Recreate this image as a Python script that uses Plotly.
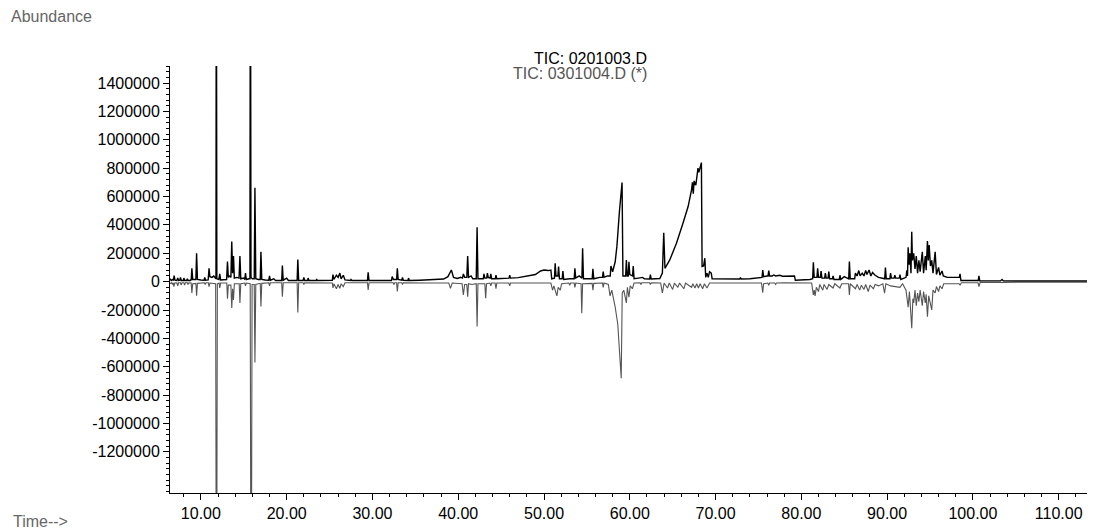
import plotly.graph_objects as go

# ---- data: TIC 0201003.D (upper, black) as (time, abundance)
tic_upper = [
    (6.4, 20000), (6.55, 8000), (6.7, 15000), (6.8, 8000), (6.88, 42000), (6.98, 10000),
    (7.2, 8000), (7.3, 25000), (7.4, 8000), (7.55, 10000), (7.62, 30000), (7.72, 8000),
    (7.95, 8000), (8.02, 25000), (8.12, 8000), (8.35, 8000), (8.42, 20000), (8.52, 8000),
    (8.75, 8000), (8.82, 15000), (8.87, 8000), (8.95, 94000), (9.05, 15000), (9.3, 12000),
    (9.42, 15000), (9.5, 200000), (9.6, 15000), (10.0, 12000), (10.38, 10000), (10.45, 30000),
    (10.55, 10000), (10.85, 12000), (10.95, 94000), (11.05, 35000), (11.3, 30000), (11.5, 40000),
    (11.7, 20000), (11.76, 20000), (11.8, 3000000), (11.86, 20000), (12.1, 15000), (12.2, 55000),
    (12.3, 12000), (12.7, 15000), (13.0, 15000), (13.1, 141000), (13.2, 30000), (13.35, 40000),
    (13.5, 30000), (13.6, 282000), (13.7, 60000), (13.8, 180000), (13.9, 25000), (14.2, 30000),
    (14.45, 25000), (14.55, 180000), (14.65, 20000), (15.0, 25000), (15.12, 15000), (15.2, 60000),
    (15.3, 15000), (15.6, 20000), (15.72, 20000), (15.77, 3000000), (15.84, 30000), (16.0, 20000),
    (16.22, 20000), (16.3, 662000), (16.4, 20000), (16.7, 15000), (16.92, 15000), (17.0, 211000),
    (17.1, 15000), (17.5, 12000), (17.92, 10000), (18.0, 40000), (18.1, 10000), (18.5, 20000),
    (18.7, 8000), (19.42, 8000), (19.5, 113000), (19.6, 10000), (20.0, 25000), (20.2, 8000),
    (21.22, 8000), (21.3, 155000), (21.4, 8000), (21.92, 8000), (22.0, 30000), (22.1, 8000),
    (22.45, 8000), (22.5, 25000), (22.6, 8000), (23.45, 8000), (23.5, 15000), (23.6, 8000),
    (24.25, 8000), (24.3, 12000), (24.4, 8000), (25.32, 10000), (25.4, 50000), (25.5, 15000),
    (25.8, 45000), (26.0, 30000), (26.2, 60000), (26.35, 20000), (26.6, 45000), (26.8, 12000),
    (27.45, 8000), (27.5, 15000), (27.6, 8000), (28.45, 8000), (28.5, 12000), (28.6, 8000),
    (29.42, 8000), (29.5, 66000), (29.6, 8000), (30.95, 8000), (31.0, 10000), (31.1, 8000),
    (32.22, 8000), (32.3, 35000), (32.45, 15000), (32.82, 15000), (32.9, 94000), (33.0, 15000),
    (33.42, 10000), (33.5, 30000), (33.6, 10000), (34.15, 8000), (34.2, 25000), (34.3, 8000),
    (35.5, 10000), (36.5, 12000), (37.5, 12000), (38.3, 18000), (38.8, 35000), (39.2, 82000),
    (39.45, 30000), (39.9, 22000), (40.3, 30000), (40.5, 25000), (40.6, 54000),
    (40.75, 30000), (41.0, 30000), (41.1, 181000), (41.2, 30000), (41.5, 40000), (41.7, 20000),
    (42.1, 20000), (42.2, 383000), (42.3, 20000), (42.7, 20000), (42.92, 20000), (43.0, 55000),
    (43.1, 25000), (43.32, 25000), (43.4, 60000), (43.5, 30000), (43.72, 25000), (43.8, 55000),
    (43.9, 20000), (44.32, 20000), (44.4, 45000), (44.5, 20000), (45.2, 25000), (45.92, 25000),
    (46.0, 45000), (46.1, 25000), (47.0, 28000), (48.0, 38000), (49.0, 50000), (49.6, 75000),
    (50.0, 82000), (50.5, 78000), (50.8, 82000), (50.9, 20000), (51.22, 25000), (51.3, 130000),
    (51.4, 40000), (51.62, 40000), (51.7, 107000), (51.8, 20000), (52.12, 20000), (52.2, 75000),
    (52.3, 15000), (53.0, 20000), (53.52, 20000), (53.6, 94000), (53.7, 25000), (54.1, 40000),
    (54.42, 25000), (54.5, 235000), (54.6, 20000), (55.0, 20000), (55.62, 20000), (55.7, 90000),
    (55.8, 20000), (56.5, 30000), (56.82, 30000), (56.9, 70000), (57.0, 30000), (57.4, 40000),
    (57.72, 40000), (57.8, 110000), (58.0, 70000), (58.3, 140000), (58.5, 250000), (58.8, 500000),
    (59.1, 698000), (59.2, 40000), (59.52, 40000), (59.6, 153000), (59.7, 40000), (59.82, 40000),
    (59.9, 140000), (60.0, 50000), (60.32, 40000), (60.4, 110000), (60.5, 20000), (61.0, 25000),
    (61.5, 30000), (61.7, 20000), (62.32, 18000), (62.4, 50000), (62.5, 18000), (63.5, 22000),
    (63.8, 60000), (63.96, 345000), (64.1, 94000), (64.66, 153000), (65.44, 270000), (66.2, 411000),
    (66.8, 529000), (67.2, 646000), (67.3, 700000), (67.4, 620000), (67.5, 710000), (67.7, 680000),
    (67.85, 752000), (67.95, 800000), (68.05, 770000), (68.24, 822000), (68.35, 839000), (68.43, 106000),
    (68.6, 110000), (68.75, 165000), (68.85, 30000), (69.0, 60000), (69.15, 30000), (69.3, 70000),
    (69.5, 60000), (69.6, 20000), (70.5, 18000), (72.0, 18000), (72.82, 18000), (72.9, 28000),
    (73.0, 18000), (74.0, 20000), (74.5, 25000), (75.3, 30000), (75.42, 30000), (75.5, 82000),
    (75.6, 35000), (76.0, 40000), (76.12, 40000), (76.2, 78000), (76.3, 40000), (76.6, 40000),
    (76.8, 47000), (77.0, 40000), (77.5, 45000), (77.8, 38000), (78.3, 40000), (79.2, 40000),
    (79.3, 10000), (80.5, 10000), (81.0, 15000), (81.32, 20000), (81.4, 136000), (81.5, 30000),
    (81.82, 30000), (81.9, 94000), (82.0, 30000), (82.22, 30000), (82.3, 75000), (82.4, 25000),
    (82.72, 25000), (82.8, 60000), (82.9, 25000), (83.12, 25000), (83.2, 70000), (83.3, 20000),
    (83.62, 20000), (83.7, 40000), (83.8, 15000), (84.42, 15000), (84.5, 45000), (84.6, 15000),
    (85.0, 35000), (85.52, 20000), (85.6, 141000), (85.7, 20000), (86.22, 20000), (86.3, 60000),
    (86.5, 40000), (86.7, 78000), (86.85, 40000), (87.1, 60000), (87.3, 40000), (87.5, 78000),
    (87.65, 50000), (87.9, 82000), (88.1, 40000), (88.3, 65000), (88.6, 45000), (89.0, 30000),
    (89.72, 20000), (89.8, 99000), (89.9, 20000), (90.32, 20000), (90.4, 60000), (90.5, 25000),
    (90.82, 25000), (90.9, 45000), (91.0, 25000), (91.42, 25000), (91.5, 50000), (91.6, 15000),
    (92.2, 30000), (92.3, 80000), (92.38, 40000), (92.45, 242000), (92.55, 120000), (92.65, 200000),
    (92.78, 60000), (92.87, 352000), (92.95, 150000), (93.1, 200000), (93.25, 90000), (93.4, 180000),
    (93.55, 60000), (93.7, 150000), (93.85, 70000), (94.1, 211000), (94.25, 60000), (94.45, 180000),
    (94.55, 80000), (94.7, 287000), (94.8, 150000), (94.9, 258000), (95.05, 110000), (95.2, 150000),
    (95.35, 60000), (95.6, 211000), (95.75, 50000), (96.0, 100000), (96.15, 45000), (96.4, 75000),
    (96.55, 40000), (97.0, 30000), (98.3, 30000), (98.42, 30000), (98.5, 55000), (98.6, 8000),
    (100.0, 8000), (100.62, 8000), (100.7, 40000), (100.8, 5000), (103.2, 5000), (103.4, 15000),
    (103.55, 5000), (106.0, 4000), (110.0, 4000), (114.2, 4000),
]

# ---- data: TIC 0301004.D (*) (mirrored, gray) as (time, abundance)
tic_lower = [
    (6.4, -15000), (6.6, -8000), (6.7, -20000), (6.78, -8000), (6.85, -35000), (6.95, -10000),
    (7.2, -8000), (7.3, -30000), (7.4, -8000), (7.62, -8000), (7.7, -25000), (7.8, -8000),
    (8.02, -8000), (8.1, -25000), (8.2, -8000), (8.42, -8000), (8.5, -20000), (8.6, -8000),
    (8.87, -10000), (8.95, -80000), (9.05, -15000), (9.42, -12000), (9.5, -100000), (9.6, -12000),
    (10.42, -8000), (10.5, -20000), (10.6, -8000), (10.87, -8000), (10.95, -35000), (11.05, -10000),
    (11.72, -15000), (11.82, -3000000), (11.92, -15000), (12.12, -10000), (12.2, -45000), (12.3, -10000),
    (13.02, -10000), (13.1, -120000), (13.2, -25000), (13.5, -25000), (13.6, -185000), (13.7, -50000),
    (13.8, -130000), (13.9, -15000), (14.47, -15000), (14.55, -150000), (14.65, -15000), (15.12, -10000),
    (15.2, -30000), (15.3, -10000), (15.75, -15000), (15.86, -3000000), (15.97, -20000), (16.22, -20000),
    (16.3, -570000), (16.4, -20000), (16.92, -12000), (17.0, -176000), (17.1, -12000), (17.92, -8000),
    (18.0, -30000), (18.1, -8000), (19.42, -8000), (19.5, -106000), (19.6, -8000), (21.22, -8000),
    (21.3, -218000), (21.4, -8000), (21.92, -8000), (22.0, -20000), (22.1, -8000), (25.32, -10000),
    (25.4, -45000), (25.5, -15000), (25.8, -50000), (26.0, -20000), (26.2, -47000), (26.35, -15000),
    (26.6, -35000), (26.8, -8000), (29.42, -8000), (29.5, -59000), (29.6, -8000), (32.42, -8000),
    (32.5, -20000), (32.6, -8000), (32.82, -8000), (32.9, -70000), (33.0, -8000), (33.42, -8000),
    (33.5, -20000), (33.6, -8000), (36.5, -10000), (38.9, -10000), (39.1, -47000), (39.3, -10000),
    (40.45, -15000), (40.6, -94000), (40.75, -20000), (41.0, -20000), (41.1, -106000), (41.2, -15000),
    (41.6, -20000), (42.1, -15000), (42.2, -317000), (42.3, -15000), (43.1, -15000), (43.2, -117000),
    (43.3, -15000), (43.7, -10000), (43.8, -30000), (43.9, -10000), (44.3, -10000), (44.4, -50000),
    (44.5, -10000), (45.9, -10000), (46.0, -30000), (46.1, -10000), (49.0, -10000), (50.8, -10000),
    (51.0, -60000), (51.15, -30000), (51.5, -100000), (51.65, -40000), (51.9, -60000), (52.05, -15000),
    (52.9, -10000), (53.0, -25000), (53.1, -10000), (53.52, -10000), (53.6, -40000), (53.7, -10000),
    (54.32, -15000), (54.4, -223000), (54.5, -15000), (55.62, -12000), (55.7, -60000), (55.8, -12000),
    (56.82, -10000), (56.9, -40000), (57.0, -10000), (57.5, -20000), (57.7, -100000), (57.9, -60000),
    (58.3, -180000), (58.6, -300000), (59.0, -681000), (59.12, -80000), (59.3, -60000), (59.6, -150000),
    (59.72, -40000), (59.9, -110000), (60.05, -30000), (60.3, -50000), (60.5, -10000), (61.2, -8000),
    (61.3, -20000), (61.4, -8000), (62.3, -8000), (62.4, -20000), (62.5, -8000), (63.6, -10000),
    (63.8, -80000), (64.0, -10000), (64.4, -45000), (64.6, -10000), (65.0, -55000), (65.2, -10000),
    (65.6, -40000), (65.8, -10000), (66.3, -50000), (66.5, -10000), (67.2, -40000), (67.35, -15000),
    (67.6, -45000), (67.8, -15000), (68.0, -45000), (68.2, -15000), (68.5, -50000), (68.7, -15000),
    (69.0, -45000), (69.3, -10000), (75.35, -10000), (75.5, -78000), (75.6, -15000), (76.1, -10000),
    (76.2, -25000), (76.3, -10000), (76.9, -10000), (77.0, -20000), (77.1, -10000), (78.0, -8000),
    (81.2, -10000), (81.4, -94000), (81.5, -60000), (81.6, -100000), (81.75, -40000), (82.0, -70000),
    (82.15, -20000), (82.5, -60000), (82.65, -20000), (83.0, -55000), (83.2, -20000), (83.7, -45000),
    (83.9, -15000), (84.5, -45000), (84.7, -15000), (85.5, -15000), (85.6, -94000), (85.7, -15000),
    (86.3, -50000), (86.5, -20000), (86.8, -60000), (87.0, -25000), (87.3, -55000), (87.5, -20000),
    (87.8, -70000), (88.0, -25000), (88.4, -50000), (88.6, -20000), (89.0, -30000), (89.5, -15000),
    (89.7, -82000), (89.85, -15000), (90.4, -30000), (91.0, -35000), (91.5, -40000), (91.8, -15000),
    (92.2, -60000), (92.45, -180000), (92.6, -70000), (92.87, -328000), (93.0, -120000), (93.1, -150000),
    (93.25, -60000), (93.4, -170000), (93.55, -80000), (93.7, -141000), (93.85, -60000), (94.1, -170000),
    (94.25, -70000), (94.45, -150000), (94.55, -90000), (94.7, -247000), (94.85, -100000), (95.2, -200000),
    (95.35, -60000), (95.6, -80000), (95.75, -35000), (96.0, -70000), (96.15, -30000), (96.4, -50000),
    (96.6, -15000), (98.4, -15000), (98.5, -25000), (98.65, -8000), (100.6, -8000), (100.7, -35000),
    (100.85, -5000), (103.3, -5000), (103.4, -8000), (103.5, -5000), (114.2, -4000),
]

label_upper = "TIC: 0201003.D"
label_lower = "TIC: 0301004.D (*)"
x_ticks = [10, 20, 30, 40, 50, 60, 70, 80, 90, 100, 110]
y_ticks = [-1200000, -1000000, -800000, -600000, -400000, -200000, 0,
           200000, 400000, 600000, 800000, 1000000, 1200000, 1400000]

t_up, a_up = zip(*tic_upper)
t_lo, a_lo = zip(*tic_lower)

FONT = "Liberation Sans, Arial, Helvetica, sans-serif"
FS = 16

fig = go.Figure()
fig.add_trace(go.Scatter(x=t_lo, y=a_lo, mode="lines", name=label_lower,
                         line=dict(color="#555555", width=1.1), showlegend=False))
fig.add_trace(go.Scatter(x=t_up, y=a_up, mode="lines", name=label_upper,
                         line=dict(color="#000000", width=1.4), showlegend=False))

fig.update_layout(
    width=1087, height=524,
    margin=dict(l=162, r=2, t=58, b=39),
    paper_bgcolor="white", plot_bgcolor="white",
    font=dict(family=FONT, size=FS, color="#000000"),
    xaxis=dict(
        range=[6.4, 114.0], showgrid=False, zeroline=False,
        showline=True, linecolor="#000000", linewidth=1,
        ticks="outside", ticklen=6, tickcolor="#000000", tickwidth=1,
        tickvals=x_ticks, ticktext=[f"{v:.2f}" for v in x_ticks],
        minor=dict(dtick=2, tick0=0, ticks="outside", ticklen=3, tickcolor="#000000", showgrid=False),
        tickfont=dict(family=FONT, size=FS, color="#000000"),
    ),
    yaxis=dict(
        range=[-1490000, 1520000], showgrid=False, zeroline=False,
        showline=True, linecolor="#000000", linewidth=1,
        ticks="outside", ticklen=6, tickcolor="#000000", tickwidth=1,
        tickvals=y_ticks, ticktext=[str(v) for v in y_ticks],
        minor=dict(dtick=40000, tick0=0, ticks="outside", ticklen=3, tickcolor="#000000", showgrid=False),
        tickfont=dict(family=FONT, size=FS, color="#000000"),
    ),
    annotations=[
        dict(text=label_upper, xref="paper", yref="paper", x=0.519, y=1.017,
             xanchor="right", yanchor="middle", showarrow=False,
             font=dict(family=FONT, size=FS, color="#000000")),
        dict(text=label_lower, xref="paper", yref="paper", x=0.519, y=0.982,
             xanchor="right", yanchor="middle", showarrow=False,
             font=dict(family=FONT, size=FS, color="#555555")),
        dict(text="Abundance", xref="paper", yref="paper", x=-0.174, y=1.115,
             xanchor="left", yanchor="middle", showarrow=False,
             font=dict(family=FONT, size=FS, color="#666666")),
        dict(text="Time-->", xref="paper", yref="paper", x=-0.172, y=-0.067,
             xanchor="left", yanchor="middle", showarrow=False,
             font=dict(family=FONT, size=FS, color="#666666")),
    ],
)

fig.write_html("out.html")
